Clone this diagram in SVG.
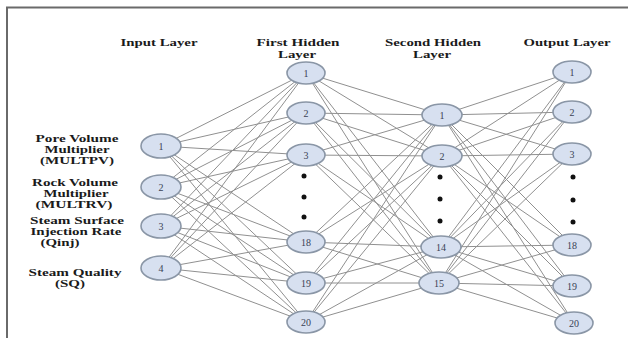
<svg xmlns="http://www.w3.org/2000/svg" width="628" height="338" viewBox="0 0 628 338">
<style>
.h{font-family:"Liberation Serif","Times New Roman",serif;font-weight:bold;font-size:9.5px;fill:#1a1a1a;text-anchor:middle}
.n ellipse{fill:#d7e0f0;stroke:#8a96a6;stroke-width:1.6}
.n text{font-family:"Liberation Serif",serif;font-size:10px;fill:#3a4255;text-anchor:middle}
.c line{stroke:#909090;stroke-width:1}
.d{fill:#111}
</style>
<rect x="0" y="0" width="628" height="338" fill="#ffffff"/>
<path d="M7,338 V7.5 H628" fill="none" stroke="#6a6a6a" stroke-width="2"/>
<g id="headers">
<text class="h" x="159" y="46" textLength="77" lengthAdjust="spacingAndGlyphs">Input Layer</text>
<text class="h" x="298" y="46" textLength="83" lengthAdjust="spacingAndGlyphs">First Hidden</text>
<text class="h" x="297" y="58" textLength="38" lengthAdjust="spacingAndGlyphs">Layer</text>
<text class="h" x="433" y="46" textLength="96" lengthAdjust="spacingAndGlyphs">Second Hidden</text>
<text class="h" x="432" y="58" textLength="38" lengthAdjust="spacingAndGlyphs">Layer</text>
<text class="h" x="567" y="46" textLength="87" lengthAdjust="spacingAndGlyphs">Output Layer</text>
</g>
<g id="input-labels">
<text class="h" x="77" y="142" textLength="83" lengthAdjust="spacingAndGlyphs">Pore Volume</text>
<text class="h" x="77" y="153" textLength="65" lengthAdjust="spacingAndGlyphs">Multiplier</text>
<text class="h" x="77" y="164" textLength="74" lengthAdjust="spacingAndGlyphs">(MULTPV)</text>
<text class="h" x="75" y="186" textLength="86" lengthAdjust="spacingAndGlyphs">Rock Volume</text>
<text class="h" x="76" y="197" textLength="65" lengthAdjust="spacingAndGlyphs">Multiplier</text>
<text class="h" x="74" y="208" textLength="77" lengthAdjust="spacingAndGlyphs">(MULTRV)</text>
<text class="h" x="77" y="224" textLength="94" lengthAdjust="spacingAndGlyphs">Steam Surface</text>
<text class="h" x="76" y="235" textLength="91" lengthAdjust="spacingAndGlyphs">Injection Rate</text>
<text class="h" x="60" y="246" textLength="39" lengthAdjust="spacingAndGlyphs">(Qinj)</text>
<text class="h" x="75" y="276" textLength="93" lengthAdjust="spacingAndGlyphs">Steam Quality</text>
<text class="h" x="70" y="287" textLength="30" lengthAdjust="spacingAndGlyphs">(SQ)</text>
</g>
<g id="connectors" class="c">
<line x1="161" y1="146" x2="306" y2="73"/><line x1="161" y1="146" x2="306" y2="113"/><line x1="161" y1="146" x2="306" y2="155"/><line x1="161" y1="146" x2="306" y2="242"/><line x1="161" y1="146" x2="306" y2="283"/><line x1="161" y1="146" x2="306" y2="322"/>
<line x1="161" y1="187" x2="306" y2="73"/><line x1="161" y1="187" x2="306" y2="113"/><line x1="161" y1="187" x2="306" y2="155"/><line x1="161" y1="187" x2="306" y2="242"/><line x1="161" y1="187" x2="306" y2="283"/><line x1="161" y1="187" x2="306" y2="322"/>
<line x1="161" y1="226" x2="306" y2="73"/><line x1="161" y1="226" x2="306" y2="113"/><line x1="161" y1="226" x2="306" y2="155"/><line x1="161" y1="226" x2="306" y2="242"/><line x1="161" y1="226" x2="306" y2="283"/><line x1="161" y1="226" x2="306" y2="322"/>
<line x1="161" y1="268" x2="306" y2="73"/><line x1="161" y1="268" x2="306" y2="113"/><line x1="161" y1="268" x2="306" y2="155"/><line x1="161" y1="268" x2="306" y2="242"/><line x1="161" y1="268" x2="306" y2="283"/><line x1="161" y1="268" x2="306" y2="322"/>
<line x1="306" y1="73" x2="442" y2="115"/><line x1="306" y1="73" x2="442" y2="156"/><line x1="306" y1="73" x2="441" y2="247"/><line x1="306" y1="73" x2="439" y2="283"/>
<line x1="306" y1="113" x2="442" y2="115"/><line x1="306" y1="113" x2="442" y2="156"/><line x1="306" y1="113" x2="441" y2="247"/><line x1="306" y1="113" x2="439" y2="283"/>
<line x1="306" y1="155" x2="442" y2="115"/><line x1="306" y1="155" x2="442" y2="156"/><line x1="306" y1="155" x2="441" y2="247"/><line x1="306" y1="155" x2="439" y2="283"/>
<line x1="306" y1="242" x2="442" y2="115"/><line x1="306" y1="242" x2="442" y2="156"/><line x1="306" y1="242" x2="441" y2="247"/><line x1="306" y1="242" x2="439" y2="283"/>
<line x1="306" y1="283" x2="442" y2="115"/><line x1="306" y1="283" x2="442" y2="156"/><line x1="306" y1="283" x2="441" y2="247"/><line x1="306" y1="283" x2="439" y2="283"/>
<line x1="306" y1="322" x2="442" y2="115"/><line x1="306" y1="322" x2="442" y2="156"/><line x1="306" y1="322" x2="441" y2="247"/><line x1="306" y1="322" x2="439" y2="283"/>
<line x1="442" y1="115" x2="572" y2="72"/><line x1="442" y1="115" x2="572" y2="112"/><line x1="442" y1="115" x2="572" y2="154"/><line x1="442" y1="115" x2="572" y2="245"/><line x1="442" y1="115" x2="572" y2="286"/><line x1="442" y1="115" x2="574" y2="323"/>
<line x1="442" y1="156" x2="572" y2="72"/><line x1="442" y1="156" x2="572" y2="112"/><line x1="442" y1="156" x2="572" y2="154"/><line x1="442" y1="156" x2="572" y2="245"/><line x1="442" y1="156" x2="572" y2="286"/><line x1="442" y1="156" x2="574" y2="323"/>
<line x1="441" y1="247" x2="572" y2="72"/><line x1="441" y1="247" x2="572" y2="112"/><line x1="441" y1="247" x2="572" y2="154"/><line x1="441" y1="247" x2="572" y2="245"/><line x1="441" y1="247" x2="572" y2="286"/><line x1="441" y1="247" x2="574" y2="323"/>
<line x1="439" y1="283" x2="572" y2="72"/><line x1="439" y1="283" x2="572" y2="112"/><line x1="439" y1="283" x2="572" y2="154"/><line x1="439" y1="283" x2="572" y2="245"/><line x1="439" y1="283" x2="572" y2="286"/><line x1="439" y1="283" x2="574" y2="323"/>
</g>
<g id="dots">
<circle class="d" cx="304" cy="176" r="2.5"/><circle class="d" cx="304" cy="197" r="2.5"/><circle class="d" cx="304" cy="217" r="2.5"/>
<circle class="d" cx="440" cy="177" r="2.5"/><circle class="d" cx="440" cy="199" r="2.5"/><circle class="d" cx="440" cy="221" r="2.5"/>
<circle class="d" cx="573" cy="177" r="2.5"/><circle class="d" cx="573" cy="200" r="2.5"/><circle class="d" cx="573" cy="222" r="2.5"/>
</g>
<g id="in1" class="n"><ellipse cx="161" cy="146" rx="20" ry="12"/><text x="161" y="149.5">1</text></g>
<g id="in2" class="n"><ellipse cx="161" cy="187" rx="20" ry="12"/><text x="161" y="190.5">2</text></g>
<g id="in3" class="n"><ellipse cx="161" cy="226" rx="20" ry="12"/><text x="161" y="229.5">3</text></g>
<g id="in4" class="n"><ellipse cx="161" cy="268" rx="20" ry="12"/><text x="161" y="271.5">4</text></g>
<g id="h1-1" class="n"><ellipse cx="306" cy="73" rx="19" ry="11"/><text x="306" y="76.5">1</text></g>
<g id="h1-2" class="n"><ellipse cx="306" cy="113" rx="19" ry="11"/><text x="306" y="116.5">2</text></g>
<g id="h1-3" class="n"><ellipse cx="306" cy="155" rx="19" ry="11"/><text x="306" y="158.5">3</text></g>
<g id="h1-18" class="n"><ellipse cx="306" cy="242" rx="19" ry="11"/><text x="306" y="245.5">18</text></g>
<g id="h1-19" class="n"><ellipse cx="306" cy="283" rx="19" ry="11"/><text x="306" y="286.5">19</text></g>
<g id="h1-20" class="n"><ellipse cx="306" cy="322" rx="19" ry="11"/><text x="306" y="325.5">20</text></g>
<g id="h2-1" class="n"><ellipse cx="442" cy="115" rx="20" ry="11"/><text x="442" y="118.5">1</text></g>
<g id="h2-2" class="n"><ellipse cx="442" cy="156" rx="20" ry="11"/><text x="442" y="159.5">2</text></g>
<g id="h2-14" class="n"><ellipse cx="441" cy="247" rx="20" ry="11"/><text x="441" y="250.5">14</text></g>
<g id="h2-15" class="n"><ellipse cx="439" cy="283" rx="20" ry="11"/><text x="439" y="286.5">15</text></g>
<g id="out1" class="n"><ellipse cx="572" cy="72" rx="19" ry="11"/><text x="572" y="75.5">1</text></g>
<g id="out2" class="n"><ellipse cx="572" cy="112" rx="19" ry="11"/><text x="572" y="115.5">2</text></g>
<g id="out3" class="n"><ellipse cx="572" cy="154" rx="19" ry="11"/><text x="572" y="157.5">3</text></g>
<g id="out18" class="n"><ellipse cx="572" cy="245" rx="19" ry="11"/><text x="572" y="248.5">18</text></g>
<g id="out19" class="n"><ellipse cx="572" cy="286" rx="19" ry="11"/><text x="572" y="289.5">19</text></g>
<g id="out20" class="n"><ellipse cx="574" cy="323" rx="19" ry="11"/><text x="574" y="326.5">20</text></g>
</svg>
